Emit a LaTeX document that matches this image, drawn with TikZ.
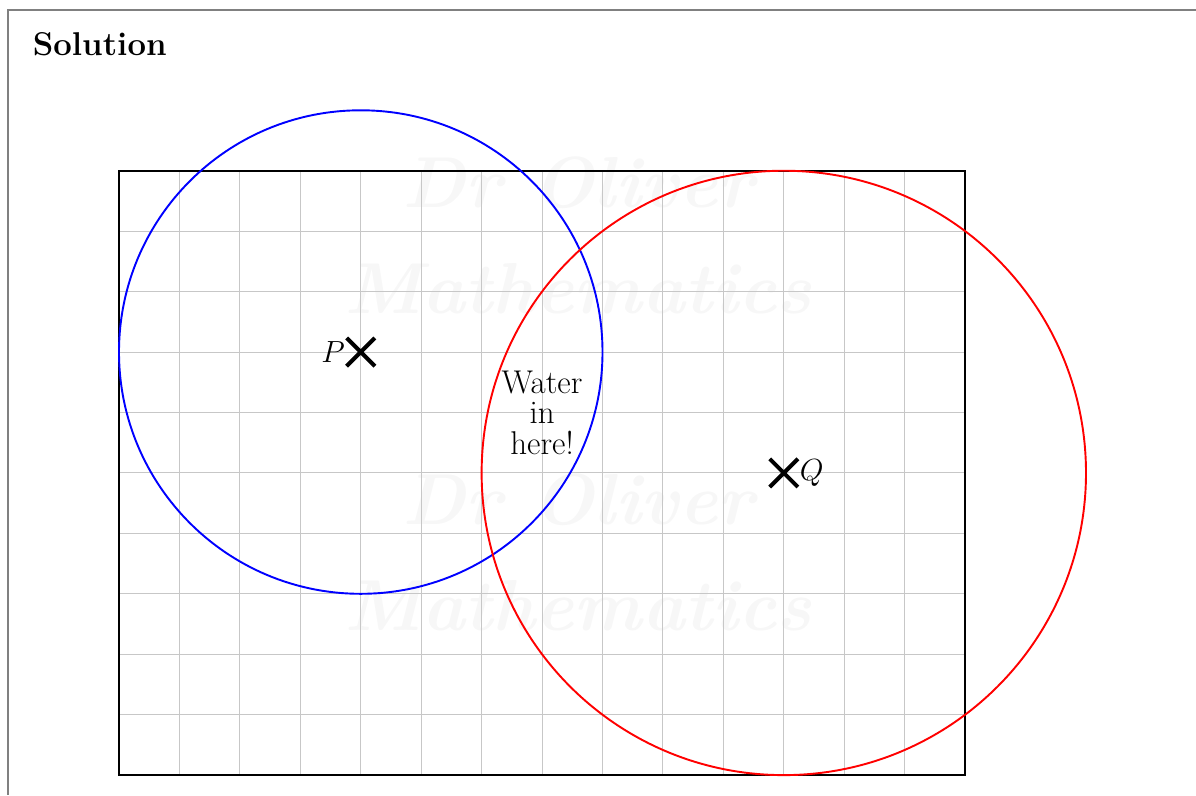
\documentclass[tikz,border=0pt]{standalone}
\usetikzlibrary{positioning, shapes.misc}
\tikzset{
  every picture/.style={line width=0.8pt},
  frame/.style={draw=black!50, line width=0.7pt},
  gridline/.style={draw=black!22, line width=0.45pt},
  crossmark/.style={cross out, draw=black, line width=1.9pt, minimum size=0.4cm, inner sep=0pt},
  ptlabel/.style={font=\fontsize{15.5}{15.5}\selectfont, inner sep=0.5pt},
  watermark/.style={font=\fontsize{34}{34}\selectfont\bfseries\itshape, text=black!3},
}

\begin{document}
\begin{tikzpicture}
  \useasboundingbox (-1.969,-0.331) rectangle (17.82,12.825);
  \draw[frame] (17.82,12.659) -- (-1.837,12.659) -- (-1.837,-0.331);
  \node[font=\fontsize{15.5}{15.5}\selectfont\bfseries, anchor=base west, inner sep=0pt] (title) at (-1.44,11.9) {Solution};

  \node[watermark] (wm1) at (7.6,9.8) {Dr Oliver};
  \node[watermark] (wm2) at (7.6,8.05) {Mathematics};
  \node[watermark] (wm3) at (7.6,4.55) {Dr Oliver};
  \node[watermark] (wm4) at (7.6,2.8) {Mathematics};

  \draw[gridline] (0,0) grid (14,10);
  \draw[line width=0.9pt] (0,0) rectangle (14,10);

  \draw[blue, line width=0.9pt] (4,7) circle (4);
  \draw[red, line width=0.9pt] (11,5) circle (5);

  \node[crossmark] (P) at (4,7) {};
  \node[ptlabel, left=0pt of P] (Plabel) {$P$};
  \node[crossmark] (Q) at (11,5) {};
  \node[ptlabel, right=0pt of Q] (Qlabel) {$Q$};

  \node[align=center, font=\fontsize{15.5}{14.4}\selectfont] (water) at (7,6) {Water\\in\\here!};
\end{tikzpicture}
\end{document}
